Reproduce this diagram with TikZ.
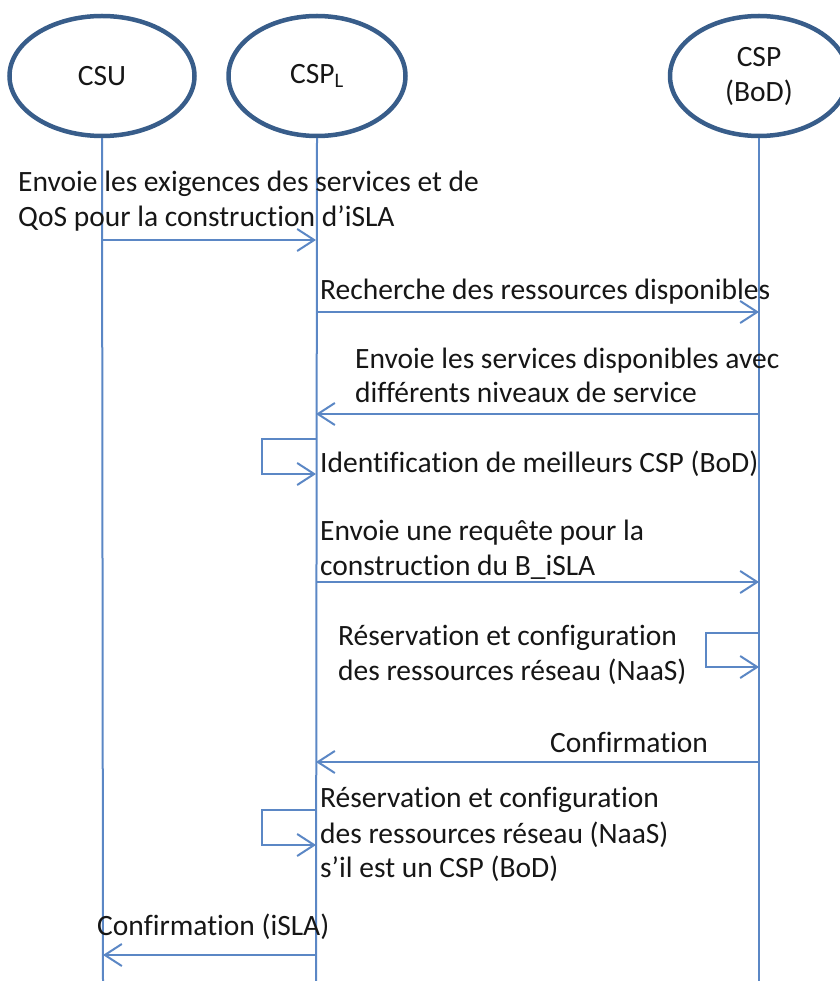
\documentclass[tikz,border=0pt]{standalone}
\usepackage{fontspec}
\setmainfont{Carlito}[Ligatures={NoCommon}]
\usetikzlibrary{arrows.meta,shapes.geometric}
\definecolor{actorblue}{HTML}{385D8A}
\definecolor{lineblue}{HTML}{5B87C5}
\definecolor{inkcol}{HTML}{161616}
\begin{document}
\begin{tikzpicture}[x=1pt,y=-1pt,
  actor/.style={draw=actorblue, line width=4.5pt, ellipse, inner sep=0pt,
    align=center, text=inkcol, font=\fontsize{29.5}{35}\selectfont},
  lifeline/.style={draw=lineblue, line width=2pt},
  msg/.style={draw=lineblue, line width=2pt,
    -{Straight Barb[length=17pt,width=22pt,line width=2pt]}},
  lbl/.style={anchor=base west, inner sep=0pt, text=inkcol,
    font=\fontsize{29.5}{35}\selectfont}]
\useasboundingbox (0,0) rectangle (839,981);

% participants
\node[actor, minimum width=185pt, minimum height=120pt] (csu) at (102,76) {CSU};
\node[actor, minimum width=177pt, minimum height=120pt] (cspl) at (317,76) {CSP\textsubscript{L}};
\node[actor, minimum width=178pt, minimum height=120pt] (bod) at (759,76) {CSP\\(BoD)};

% lifelines
\coordinate (csuend) at (103,981);
\coordinate (csplend) at (316,981);
\coordinate (bodend) at (759,981);
\draw[lifeline] (csu.south) -- (csuend);
\draw[lifeline] (cspl.south) -- (csplend);
\draw[lifeline] (bod.south) -- (bodend);

% 1: CSU -> CSP_L
\node[lbl] (t1a) at (18,192) {Envoie les exigences des services et de};
\node[lbl] (t1b) at (18,227) {QoS pour la construction d’iSLA};
\coordinate (m1s) at (103,240); \coordinate (m1e) at (316,240);
\draw[msg] (m1s) -- (m1e);

% 2: CSP_L -> CSP (BoD)
\node[lbl] (t2) at (320,299) {Recherche des ressources disponibles};
\coordinate (m2s) at (316,312); \coordinate (m2e) at (759,312);
\draw[msg] (m2s) -- (m2e);

% 3: CSP (BoD) -> CSP_L
\node[lbl] (t3a) at (355,368) {Envoie les services disponibles avec};
\node[lbl] (t3b) at (355,402) {différents niveaux de service};
\coordinate (m3s) at (759,414); \coordinate (m3e) at (316,414);
\draw[msg] (m3s) -- (m3e);

% 4: self message on CSP_L
\node[lbl] (t4) at (320,472) {Identification de meilleurs CSP (BoD)};
\coordinate (s4a) at (316,439); \coordinate (s4b) at (316,474);
\draw[msg] (s4a) -- (262,439) |- (s4b);

% 5: CSP_L -> CSP (BoD)
\node[lbl] (t5a) at (320,540) {Envoie une requête pour la};
\node[lbl] (t5b) at (320,575) {construction du B\_iSLA};
\coordinate (m5s) at (316,582); \coordinate (m5e) at (759,582);
\draw[msg] (m5s) -- (m5e);

% 6: self message on CSP (BoD)
\node[lbl] (t6a) at (338,645) {Réservation et configuration};
\node[lbl] (t6b) at (338,680) {des ressources réseau (NaaS)};
\coordinate (s6a) at (759,633); \coordinate (s6b) at (759,667);
\draw[msg] (s6a) -- (706,633) |- (s6b);

% 7: CSP (BoD) -> CSP_L
\node[lbl] (t7) at (550,752) {Confirmation};
\coordinate (m7s) at (759,762); \coordinate (m7e) at (316,762);
\draw[msg] (m7s) -- (m7e);

% 8: self message on CSP_L
\node[lbl] (t8a) at (320,807) {Réservation et configuration};
\node[lbl] (t8b) at (320,843) {des ressources réseau (NaaS)};
\node[lbl] (t8c) at (320,877) {s’il est un CSP (BoD)};
\coordinate (s8a) at (316,810); \coordinate (s8b) at (316,845);
\draw[msg] (s8a) -- (262,810) |- (s8b);

% 9: CSP_L -> CSU
\node[lbl] (t9) at (97,935) {Confirmation (iSLA)};
\coordinate (m9s) at (316,955); \coordinate (m9e) at (103,955);
\draw[msg] (m9s) -- (m9e);
\end{tikzpicture}
\end{document}
